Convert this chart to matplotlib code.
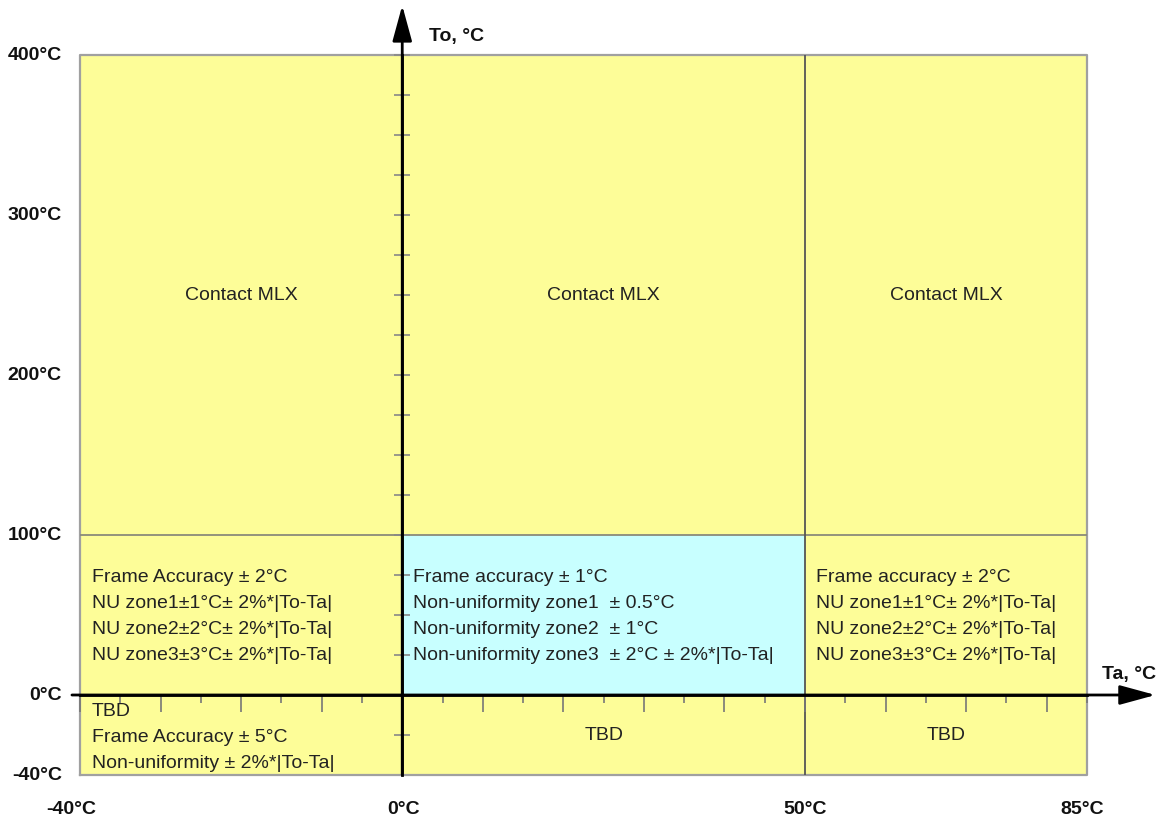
import numpy as np
import matplotlib
matplotlib.use('Agg')
import matplotlib.pyplot as plt
from matplotlib.ticker import FixedLocator

plt.rcParams['font.family'] = ['Liberation Sans', 'DejaVu Sans']

# ---- data ----
ta_edges = [-40, 0, 50, 85]          # ambient temperature zone borders
to_edges = [-40, 0, 100, 400]        # object temperature zone borders
ta_tick_labels = ['-40°C', '0°C', '50°C', '85°C']
to_tick_values = [400, 300, 200, 100, 0, -40]
to_tick_labels = ['400°C', '300°C', '200°C', '100°C', '0°C', '-40°C']

# rows bottom->top, columns left->right
cell_colors = [
    ['yellow', 'yellow', 'yellow'],
    ['yellow', 'cyan', 'yellow'],
    ['yellow', 'yellow', 'yellow'],
]
top_texts = ['Contact MLX', 'Contact MLX', 'Contact MLX']
mid_left = ['Frame Accuracy ± 2°C', 'NU zone1±1°C± 2%*|To-Ta|',
            'NU zone2±2°C± 2%*|To-Ta|', 'NU zone3±3°C± 2%*|To-Ta|']
mid_center = ['Frame accuracy ± 1°C', 'Non-uniformity zone1  ± 0.5°C',
              'Non-uniformity zone2  ± 1°C',
              'Non-uniformity zone3  ± 2°C ± 2%*|To-Ta|']
mid_right = ['Frame accuracy ± 2°C', 'NU zone1±1°C± 2%*|To-Ta|',
             'NU zone2±2°C± 2%*|To-Ta|', 'NU zone3±3°C± 2%*|To-Ta|']
bottom_left = ['TBD', 'Frame Accuracy ± 5°C', 'Non-uniformity ± 2%*|To-Ta|']
bottom_center = 'TBD'
bottom_right = 'TBD'
to_axis_ticks = [-20] + list(range(0, 401, 25))

# ---- style ----
palette = {'yellow': '#FDFD98', 'cyan': '#C8FFFF'}
txt_color = '#222222'
cell_fs = 14
lab_fs = 14
PX = 72 / 100  # points per pixel
x_label_shift_px = [-9, 1, 0, -5]

fig = plt.figure(figsize=(11.62, 8.24), dpi=100)
ax = fig.add_axes([80 / 1162, (824 - 775) / 824, 1007 / 1162, 720 / 824])


def fwd(v):
    v = np.asarray(v, dtype=float)
    return np.where(v < 0, v * 1.25, v)


def inv(v):
    v = np.asarray(v, dtype=float)
    return np.where(v < 0, v / 1.25, v)


ax.set_yscale('function', functions=(fwd, inv))
ax.set_xlim(ta_edges[0], ta_edges[-1])
ax.set_ylim(to_edges[0], to_edges[-1])
ax.patch.set_visible(False)

# cells
for r in range(3):
    for c in range(3):
        ax.fill_between([ta_edges[c], ta_edges[c + 1]], to_edges[r], to_edges[r + 1],
                        color=palette[cell_colors[r][c]], lw=0, zorder=0)

# border and grid lines
ax.plot([ta_edges[0], ta_edges[-1], ta_edges[-1], ta_edges[0], ta_edges[0]],
        [to_edges[0], to_edges[0], to_edges[-1], to_edges[-1], to_edges[0]],
        color='#a0a0a0', lw=1.6, zorder=1, clip_on=False)
ax.hlines(to_edges[2], ta_edges[0], ta_edges[-1], color='#8a8a7a', lw=1.3, zorder=1)
ax.vlines(ta_edges[2], to_edges[0], to_edges[-1], color='#555555', lw=1.3, zorder=1)

# axes through zero
for s in ['top', 'right']:
    ax.spines[s].set_visible(False)
ax.spines['left'].set_position(('data', 0))
ax.spines['bottom'].set_position(('data', 0))
ax.spines['left'].set_linewidth(2)
ax.spines['bottom'].set_linewidth(2)
ax.spines['left'].set_zorder(4)
ax.spines['bottom'].set_zorder(4)

ax.xaxis.set_major_locator(FixedLocator(list(range(-40, 86, 10))))
ax.xaxis.set_minor_locator(FixedLocator(list(range(-35, 86, 10))))
ax.yaxis.set_major_locator(FixedLocator(to_axis_ticks))
ax.yaxis.set_minor_locator(FixedLocator([]))
ax.tick_params(axis='x', which='major', direction='out', length=17 * PX, width=1.2,
               color='#777777', labelbottom=False)
ax.tick_params(axis='x', which='minor', direction='out', length=8 * PX, width=1.2,
               color='#777777', labelbottom=False)
ax.tick_params(axis='y', which='major', direction='inout', length=16 * PX, width=1.2,
               color='#888888', labelleft=False)

# arrows
arrow_kw = dict(arrowstyle='-|>,head_length=2.2,head_width=0.6', color='black', lw=2,
                shrinkA=0, shrinkB=0, mutation_scale=10)
ax.annotate('', xy=(0, 431), xytext=(0, to_edges[0]), arrowprops=arrow_kw,
            annotation_clip=False, zorder=5)
ax.annotate('', xy=(93.5, 0), xytext=(-41, 0), arrowprops=arrow_kw,
            annotation_clip=False, zorder=5)

# axis titles
ax.annotate('To, °C', xy=(0, 400), xytext=(27 * PX, 18 * PX), textcoords='offset points',
            ha='left', va='center', fontsize=lab_fs, fontweight='bold', color='#111111',
            annotation_clip=False)
ax.annotate('Ta, °C', xy=(85, 0), xytext=(15 * PX, 20 * PX), textcoords='offset points',
            ha='left', va='center', fontsize=lab_fs, fontweight='bold', color='#111111',
            annotation_clip=False)

# edge tick labels
for v, lab in zip(to_tick_values, to_tick_labels):
    ax.annotate(lab, xy=(ta_edges[0], v), xytext=(-18 * PX, 0), textcoords='offset points',
                ha='right', va='center', fontsize=lab_fs, fontweight='bold',
                color='#111111', annotation_clip=False)
for v, lab, sh in zip(ta_edges, ta_tick_labels, x_label_shift_px):
    ax.annotate(lab, xy=(v, to_edges[0]), xytext=(sh * PX, -35 * PX), textcoords='offset points',
                ha='center', va='center', fontsize=lab_fs, fontweight='bold',
                color='#111111', annotation_clip=False)

# top row text
for c, t in enumerate(top_texts):
    ax.text((ta_edges[c] + ta_edges[c + 1]) / 2, 250, t, ha='center', va='center',
            fontsize=cell_fs, color=txt_color, zorder=3)

# middle row text
line_gap = 26 * PX
for c, lines in enumerate([mid_left, mid_center, mid_right]):
    dx = 12 if c == 0 else 11
    for i, t in enumerate(lines):
        ax.annotate(t, xy=(ta_edges[c], to_edges[2]),
                    xytext=(dx * PX, -42 * PX - i * line_gap), textcoords='offset points',
                    ha='left', va='center', fontsize=cell_fs, color=txt_color, zorder=3)

# bottom row text
for i, t in enumerate(bottom_left):
    ax.annotate(t, xy=(ta_edges[0], to_edges[1]),
                xytext=(12 * PX, -16 * PX - i * line_gap), textcoords='offset points',
                ha='left', va='center', fontsize=cell_fs, color=txt_color, zorder=3)
for c, t in [(1, bottom_center), (2, bottom_right)]:
    ax.text((ta_edges[c] + ta_edges[c + 1]) / 2, -20, t, ha='center', va='center',
            fontsize=cell_fs, color=txt_color, zorder=3)

fig.savefig('out.png', dpi=100)
